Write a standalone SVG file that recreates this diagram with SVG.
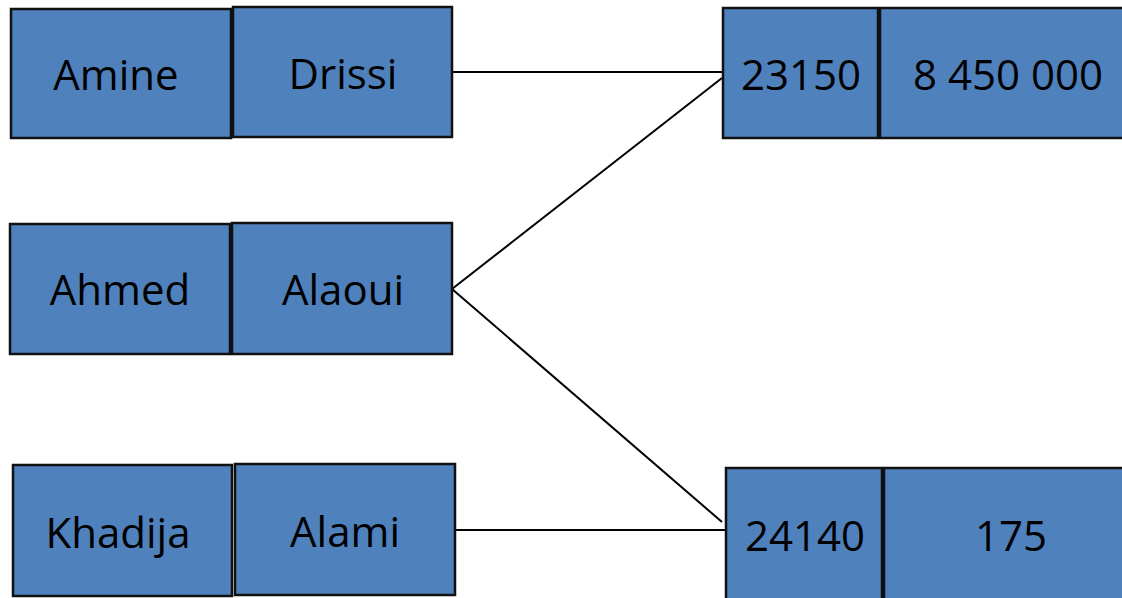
<svg xmlns="http://www.w3.org/2000/svg" width="1122" height="598" viewBox="0 0 1122 598">
<style>
.b{fill:#4F81BD;stroke:#111;stroke-width:2.5}
.t{font-family:"Open Sans","Noto Sans",sans-serif;font-size:42px;fill:#000;text-anchor:middle}
.c{stroke:#000;stroke-width:2;fill:none}
</style>
<rect width="1122" height="598" fill="#fff"/>
<g id="connectors">
<line class="c" x1="448" y1="72" x2="722" y2="72"/>
<line class="c" x1="722" y1="78" x2="452" y2="289"/>
<line class="c" x1="452" y1="289" x2="722" y2="522"/>
<line class="c" x1="455" y1="530" x2="726" y2="530"/>
</g>
<g id="amine"><rect class="b" x="11" y="9" width="220" height="129"/><text class="t" x="116" y="90">Amine</text></g>
<g id="drissi"><rect class="b" x="233" y="7" width="219" height="130"/><text class="t" x="343" y="89">Drissi</text></g>
<g id="ahmed"><rect class="b" x="10" y="224" width="220" height="130"/><text class="t" x="120" y="305">Ahmed</text></g>
<g id="alaoui"><rect class="b" x="232" y="223" width="220" height="131"/><text class="t" x="343" y="305">Alaoui</text></g>
<g id="khadija"><rect class="b" x="13" y="465" width="219" height="131"/><text class="t" x="118" y="548">Khadija</text></g>
<g id="alami"><rect class="b" x="235" y="464" width="220" height="131"/><text class="t" x="345" y="547">Alami</text></g>
<g id="n23150"><rect class="b" x="723" y="8" width="155" height="130"/><text class="t" x="801" y="90">23150</text></g>
<g id="n8450000"><rect class="b" x="880" y="8" width="250" height="130"/><text class="t" x="1008" y="90">8 450 000</text></g>
<g id="n24140"><rect class="b" x="726" y="468" width="156" height="140"/><text class="t" x="805" y="551">24140</text></g>
<g id="n175"><rect class="b" x="884" y="468" width="250" height="140"/><text class="t" x="1011" y="551">175</text></g>
</svg>
